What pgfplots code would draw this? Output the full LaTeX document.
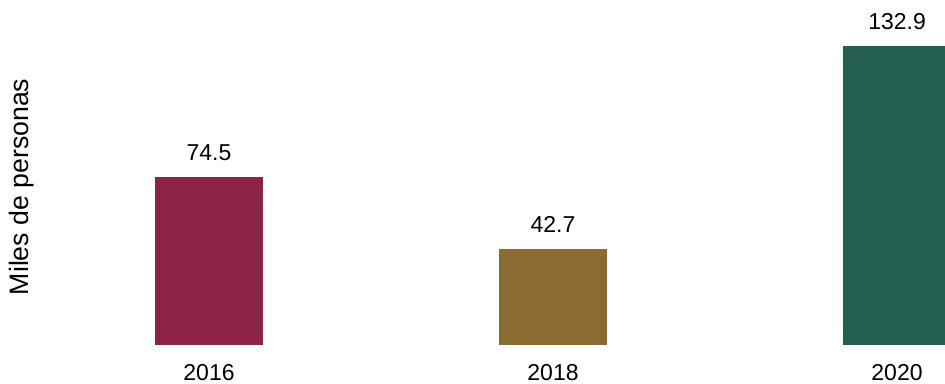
\documentclass[border=0pt]{standalone}
\usepackage{pgfplots}
\pgfplotsset{compat=1.18}
\usepackage{fontspec}
\setmainfont{Liberation Sans}
\definecolor{cA}{HTML}{8C2545}
\definecolor{cB}{HTML}{8A6C32}
\definecolor{cC}{HTML}{235E50}
\begin{document}
\begin{tikzpicture}
\begin{axis}[
  scale only axis,
  width=708.75pt, height=287.25pt,
  xmin=-0.6076, xmax=2.1395,
  ymin=-16.89, ymax=153.33,
  clip=true,
  axis line style={draw=none},
  major tick length=0pt,
  ytick=\empty,
  xtick={0,1,2},
  xticklabels={2016,2018,2020},
  xticklabel style={anchor=base, inner sep=0pt, yshift=2pt, font=\fontsize{17.25}{20}\selectfont},
  ylabel={Miles de personas},
  ylabel style={at={(axis description cs:0.0233,0.512)}, anchor=center, font=\fontsize{20}{24}\selectfont},
  /pgf/number format/assume math mode=true,
  /pgf/number format/.cd, fixed, fixed zerofill, precision=1, /pgfplots/.cd,
  nodes near coords,
  nodes near coords style={anchor=south, inner sep=0pt, yshift=12pt, font=\fontsize{17.25}{20}\selectfont, text=black},
  ybar, bar width=81pt, bar shift=0pt,
]
\addplot[fill=cA, draw=none] coordinates {(0,74.5)};
\addplot[fill=cB, draw=none] coordinates {(1,42.7)};
\addplot[fill=cC, draw=none] coordinates {(2,132.9)};
\end{axis}
\pgfresetboundingbox
\useasboundingbox (current axis.south west) rectangle (current axis.north east);
\end{tikzpicture}
\end{document}
